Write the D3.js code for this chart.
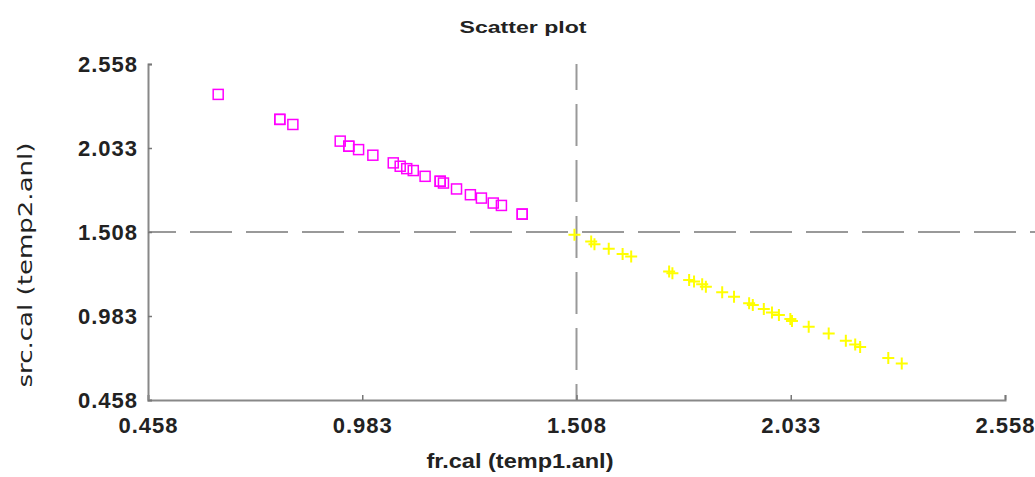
<!DOCTYPE html>
<html lang="en">
<head>
    <meta charset="UTF-8">
    <title>Scatter plot</title>
    <script src="https://d3js.org/d3.v7.min.js"></script>
    <style>
        body { margin: 0; background-color: white; }
        .tick-label {
            font-family: "Liberation Sans", sans-serif;
            font-weight: bold;
            font-size: 22px;
            letter-spacing: 1px;
            fill: #222;
        }
        .title {
            font-family: "Liberation Sans", sans-serif;
            font-weight: bold;
            font-size: 17px;
            fill: #222;
        }
        .x-label {
            font-family: "Liberation Sans", sans-serif;
            font-weight: bold;
            font-size: 20px;
            fill: #222;
        }
        .y-label {
            font-family: "DejaVu Sans", sans-serif;
            font-size: 20px;
            fill: #222;
        }
    </style>
</head>
<body>
<script>
    // tick values shared by both axes
    const ticks = [0.458, 0.983, 1.508, 2.033, 2.558];

    // magenta squares (fr.cal < 1.508)
    const sqX = [0.630, 0.781, 0.781, 0.813, 0.929, 0.950, 0.950, 0.974, 1.009, 1.059, 1.076, 1.092, 1.108, 1.137, 1.174, 1.174, 1.182, 1.214, 1.248, 1.275, 1.304, 1.324, 1.375, 1.375];
    const sqY = [2.368, 2.212, 2.212, 2.180, 2.076, 2.044, 2.044, 2.023, 1.988, 1.940, 1.919, 1.904, 1.892, 1.856, 1.825, 1.825, 1.814, 1.777, 1.741, 1.720, 1.689, 1.674, 1.620, 1.620];

    // yellow crosses (fr.cal > 1.508)
    const crX = [1.503, 1.544, 1.552, 1.587, 1.621, 1.642, 1.735, 1.743, 1.784, 1.796, 1.816, 1.825, 1.865, 1.894, 1.931, 1.940, 1.967, 1.987, 2.004, 2.032, 2.036, 2.077, 2.126, 2.168, 2.191, 2.203, 2.272, 2.305];
    const crY = [1.491, 1.449, 1.432, 1.403, 1.371, 1.355, 1.261, 1.250, 1.208, 1.198, 1.181, 1.166, 1.131, 1.104, 1.062, 1.052, 1.027, 1.005, 0.989, 0.964, 0.951, 0.916, 0.874, 0.828, 0.805, 0.790, 0.721, 0.686];

    const W = 1035, H = 477;
    const mLeft = 148, mRight = 1005, mTop = 64, mBottom = 400;

    const svg = d3.select("body").append("svg")
        .attr("width", W)
        .attr("height", H);

    const x = d3.scaleLinear().domain([0.458, 2.558]).range([mLeft, mRight]);
    const y = d3.scaleLinear().domain([0.458, 2.558]).range([mBottom, mTop]);

    // dashed reference lines at 1.508
    svg.append("line")
        .attr("x1", mLeft).attr("x2", W)
        .attr("y1", y(1.508)).attr("y2", y(1.508))
        .attr("stroke", "#999").attr("stroke-width", 2)
        .attr("stroke-dasharray", "42,14")
        .attr("stroke-dashoffset", 14);
    svg.append("line")
        .attr("x1", x(1.508)).attr("x2", x(1.508))
        .attr("y1", mTop).attr("y2", mBottom)
        .attr("stroke", "#999").attr("stroke-width", 2)
        .attr("stroke-dasharray", "42,14")
        .attr("stroke-dashoffset", 16);

    // axes
    const xAxis = d3.axisBottom(x).tickValues(ticks).tickSize(-5).tickFormat(d3.format(".3f"));
    const yAxis = d3.axisLeft(y).tickValues(ticks).tickSize(-4).tickFormat(d3.format(".3f"));

    const gx = svg.append("g").attr("transform", `translate(0,${mBottom})`).call(xAxis);
    const gy = svg.append("g").attr("transform", `translate(${mLeft},0)`).call(yAxis);

    [gx, gy].forEach(g => {
        g.select(".domain").attr("stroke", "#888").attr("stroke-width", 2);
        g.selectAll(".tick line").attr("stroke", "#777").attr("stroke-width", 1.5);
        g.selectAll(".tick text").attr("class", "tick-label").attr("fill", null);
    });
    gx.selectAll(".tick text").attr("y", 17);
    gy.selectAll(".tick text").attr("x", -10).attr("dy", "0.34em");

    // squares
    svg.append("g").selectAll("rect")
        .data(sqX.map((d, i) => [d, sqY[i]]))
        .join("rect")
        .attr("x", d => x(d[0]) - 5)
        .attr("y", d => y(d[1]) - 5)
        .attr("width", 10).attr("height", 10)
        .attr("fill", "none")
        .attr("stroke", "#ff00ff")
        .attr("stroke-width", 1.5);

    // crosses
    svg.append("g").selectAll("path")
        .data(crX.map((d, i) => [d, crY[i]]))
        .join("path")
        .attr("d", d => {
            const cx = x(d[0]), cy = y(d[1]);
            return `M${cx - 6},${cy}H${cx + 6}M${cx},${cy - 6}V${cy + 6}`;
        })
        .attr("stroke", "#ffff00")
        .attr("stroke-width", 2);

    // title and axis labels
    svg.append("text").attr("class", "title")
        .attr("x", 523).attr("y", 33)
        .attr("text-anchor", "middle")
        .attr("textLength", 127).attr("lengthAdjust", "spacingAndGlyphs")
        .text("Scatter plot");
    svg.append("text").attr("class", "x-label")
        .attr("x", 520).attr("y", 468)
        .attr("text-anchor", "middle")
        .attr("textLength", 187).attr("lengthAdjust", "spacingAndGlyphs")
        .text("fr.cal (temp1.anl)");
    svg.append("text").attr("class", "y-label")
        .attr("transform", "translate(32,265) rotate(-90)")
        .attr("text-anchor", "middle")
        .attr("textLength", 245).attr("lengthAdjust", "spacingAndGlyphs")
        .text("src.cal (temp2.anl)");
</script>
</body>
</html>
